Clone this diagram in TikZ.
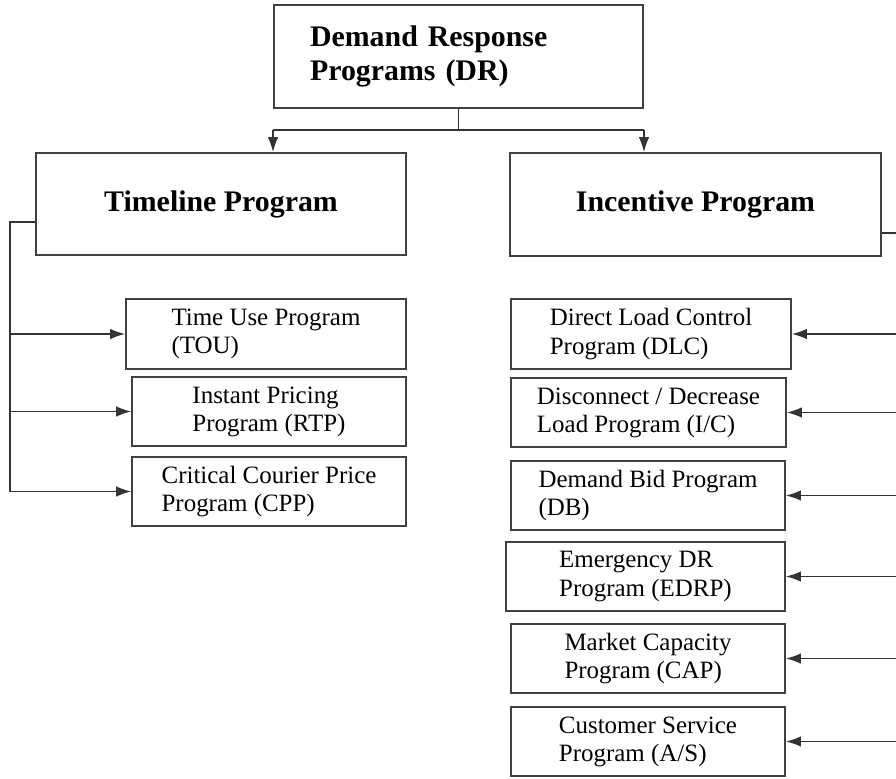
\documentclass[tikz,border=0pt]{standalone}
\usepackage{fontspec}
\setmainfont{Liberation Serif}
\usepackage{tikz}
\usetikzlibrary{arrows.meta,calc}

\tikzset{
  box/.style={draw=black!75, line width=1pt, inner sep=0pt, font=\fontsize{17}{19}\selectfont\bfseries},
  subbox/.style={draw=black!75, line width=1pt, inner sep=0pt, align=left, minimum height=1.38cm, font=\fontsize{14.2}{16}\selectfont},
  arr/.style={draw=black!80, line width=0.9pt, -{Latex[length=3mm,width=2.1mm]}},
  wire/.style={draw=black!80, line width=0.9pt}
}

\begin{document}
\begin{tikzpicture}[x=0.02cm,y=-0.02cm]
\useasboundingbox (0,0) rectangle (896,778);

\node[box, align=left, text width=5.94cm, inner xsep=0.72cm, minimum height=2.06cm] (dr) at (458.5,56.5) {Demand Response\\Programs (DR)};
\node[box, minimum width=7.4cm, minimum height=2.04cm] (timeline) at (221,204) {Timeline Program};
\node[box, minimum width=7.42cm, minimum height=2.06cm] (incentive) at (695.5,204.5) {Incentive Program};

\node[subbox, minimum width=5.6cm, minimum height=1.4cm] (tou) at (266,334) {Time Use Program\\(TOU)};
\node[subbox, minimum width=5.48cm] (rtp) at (269,411.5) {Instant Pricing\\Program (RTP)};
\node[subbox, minimum width=5.48cm] (cpp) at (269,491.5) {Critical Courier Price\\Program (CPP)};

\node[subbox, minimum width=5.6cm, minimum height=1.4cm] (dlc) at (651,334) {Direct Load Control\\Program (DLC)};
\node[subbox, minimum width=5.5cm] (ic) at (648.5,412.5) {Disconnect / Decrease\\Load Program (I/C)};
\node[subbox, minimum width=5.48cm] (db) at (648,495.5) {Demand Bid Program\\(DB)};
\node[subbox, minimum width=5.58cm] (edrp) at (645.5,576.5) {Emergency DR\\Program (EDRP)};
\node[subbox, minimum width=5.48cm] (cap) at (648,658.5) {Market Capacity\\Program (CAP)};
\node[subbox, minimum width=5.48cm] (as) at (648,741.5) {Customer Service\\Program (A/S)};

\coordinate (busL) at (273,130);
\coordinate (busR) at (644,130);
\coordinate (lbus) at (10,222);
\coordinate (rbus) at (896,233);

\draw[wire] (dr.south) -- (dr.south |- busL);
\draw[wire] (busL) -- (busR);
\draw[arr] (busL) -- (busL |- timeline.north);
\draw[arr] (busR) -- (busR |- incentive.north);

\draw[wire] (timeline.west |- lbus) -- (lbus) -- (lbus |- cpp.west);
\foreach \n in {tou,rtp,cpp}
  \draw[arr] (lbus |- \n.west) -- (\n.west);

\draw[wire] (incentive.east |- rbus) -- (rbus);
\foreach \n in {dlc,ic,db,edrp,cap,as}
  \draw[arr] (rbus |- \n.east) -- (\n.east);
\end{tikzpicture}
\end{document}
